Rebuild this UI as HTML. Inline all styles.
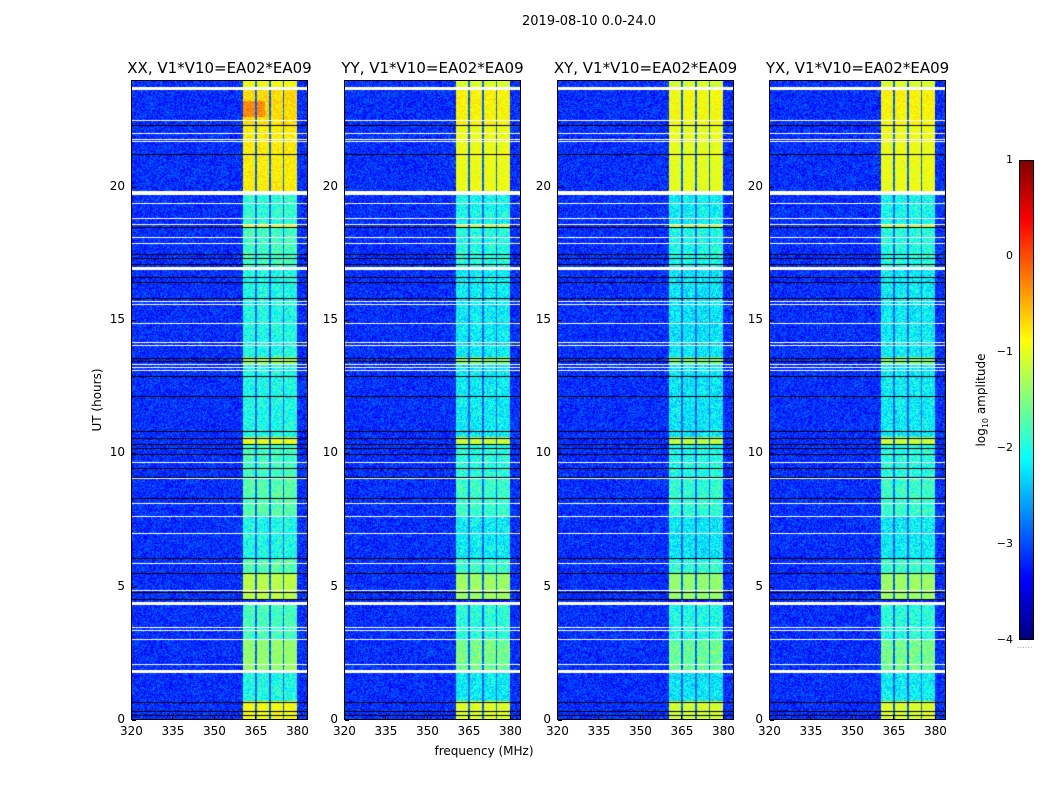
<!DOCTYPE html>
<html><head><meta charset="utf-8">
<style>
body{margin:0;background:#fff;width:1050px;height:800px;overflow:hidden;font-family:"DejaVu Sans","Liberation Sans",sans-serif;}
#root{position:relative;width:1050px;height:800px;}
.abs{position:absolute;}
canvas{position:absolute;}
.frame{position:absolute;border:1px solid #000;box-sizing:border-box;}
.tl{position:absolute;font-size:12px;color:#000;white-space:nowrap;}
.ttl{position:absolute;font-size:15px;color:#000;white-space:nowrap;transform:translateX(-50%);}
.tk{position:absolute;background:#000;}
</style></head>
<body><div id="root">
<div class="abs" style="left:589px;top:14px;font-size:13px;transform:translateX(-50%)">2019-08-10 0.0-24.0</div>
<div class="abs" style="left:97px;top:400px;font-size:12px;transform:translate(-50%,-50%) rotate(-90deg)">UT (hours)</div>
<div class="abs" style="left:484px;top:744px;font-size:12px;transform:translateX(-50%)">frequency (MHz)</div>
<div class="abs" style="left:1019px;top:160px;width:15px;height:480px;box-sizing:border-box;border:1px solid #000;background:linear-gradient(to top,#000080 0%,#0000ff 12.5%,#00ffff 37.5%,#ffff00 62.5%,#ff0000 87.5%,#800000 100%)"></div>
<div class="abs" style="left:982px;top:400px;font-size:12px;transform:translate(-50%,-50%) rotate(-90deg);white-space:nowrap">log<sub style="font-size:8px">10</sub> amplitude</div>
<div class="abs" style="left:1017px;top:641px;font-size:8px;color:#999;letter-spacing:0">......</div>
</div>
<script>
const panelTitles=["XX, V1*V10=EA02*EA09","YY, V1*V10=EA02*EA09","XY, V1*V10=EA02*EA09","YX, V1*V10=EA02*EA09"];
const panelOffsets=[0,-0.15,-0.2,-0.15];
const xTicks=[320,335,350,365,380];
const yTicks=[0,5,10,15,20];
const cbTicks=[1,0,-1,-2,-3,-4];
const subbandStart=[360.6,365.5,370.5,375.5];
const subbandEnd=[365.0,370.0,375.0,380.0];
const segStart=[0,0.7,1.8,3.0,4.5,5.5,6.0,7.6,9.1,10.35,10.6,13.3,13.6,16.9,17.0,18.5,18.6,19.75,21.2,22.3,23.7];
const segEnd=[0.7,1.8,3.0,4.35,5.5,6.0,7.6,9.1,10.35,10.6,13.3,13.6,16.9,17.0,18.5,18.6,19.75,21.2,22.3,23.7,24];
const segLevel=[-0.9,-2.0,-1.4,-1.8,-1.2,-1.7,-2.0,-1.7,-1.8,-1.0,-2.0,-1.3,-2.0,-0.9,-1.8,-1.0,-1.9,-0.8,-0.8,-0.7,-0.9];
const backgroundLevel=-3.15;
const whiteFlagHour=[23.66,22.47,21.99,21.78,21.68,19.75,19.37,18.81,18.59,18.09,17.87,16.94,15.68,15.58,14.87,14.16,14.04,13.34,13.21,13.09,9.66,9.06,8.13,7.62,7.0,5.88,4.85,4.35,3.46,3.34,3.03,2.09,1.81];
const whiteFlagDur=[0.13,0.05,0.05,0.05,0.05,0.15,0.05,0.05,0.05,0.05,0.05,0.13,0.05,0.05,0.05,0.05,0.05,0.05,0.05,0.05,0.05,0.05,0.05,0.05,0.05,0.05,0.05,0.13,0.05,0.05,0.05,0.05,0.13];
const blackFlagHour=[22.31,21.21,18.5,17.47,17.33,17.11,16.62,16.43,15.81,13.58,13.46,12.9,12.16,10.85,10.56,10.35,10.21,9.97,9.44,9.12,8.34,6.09,5.52,4.79,4.53,0.69,0.35,0.19];

const root=document.getElementById('root');
const PL=[131,344,557,769],PT=80,PW=177,PH=640;
const fMin=320,fMax=384,tMin=0,tMax=24;
function xs(f){return (f-fMin)/(fMax-fMin)*PW;}
function ys(h){return PH-(h-tMin)/(tMax-tMin)*PH;}
function jet(v){v=Math.max(0,Math.min(1,v));const c=x=>Math.round(255*Math.max(0,Math.min(1,1.5-Math.abs(x))));return [c(4*v-3),c(4*v-2),c(4*v-1)];}
function hash(a,b,c){let n=(a*374761393+b*668265263+c*2147483647)|0;n=(n^(n>>>13))*1274126177|0;n=n^(n>>>16);return ((n>>>0)%10000)/10000;}
function bandLevel(h){for(let i=0;i<segStart.length;i++){if(h>=segStart[i]&&h<segEnd[i])return segLevel[i];}return backgroundLevel;}

PL.forEach((left,p)=>{
  const cv=document.createElement('canvas');
  cv.width=PW;cv.height=PH;cv.style.left=left+'px';cv.style.top=PT+'px';
  
  
  root.appendChild(cv);
  const ctx=cv.getContext('2d');
  const img=ctx.createImageData(PW,PH);
  for(let py=0;py<PH;py++){
    const h=tMax-(py+0.5)/PH*(tMax-tMin);
    const bl=bandLevel(h)+panelOffsets[p];
    for(let px=0;px<PW;px++){
      const f=fMin+(px+0.5)/PW*(fMax-fMin);
      let lv=backgroundLevel,amp=0.7;
      let inBand=false;
      for(let s=0;s<subbandStart.length;s++){if(f>=subbandStart[s]&&f<subbandEnd[s]){inBand=true;break;}}
      if(inBand){lv=bl;amp=bl<-1.5?0.8:0.4;
        if(p===0&&h>22.6&&h<23.2&&f<368.5)lv=-0.3;
      } else if(f>=subbandStart[0]&&f<subbandEnd[3]){lv=-2.9;amp=0.5;}
      const v=(lv+(hash(px,py,p+1)-0.5)*amp+4)/5;
      const c=jet(v);const k=(py*PW+px)*4;
      img.data[k]=c[0];img.data[k+1]=c[1];img.data[k+2]=c[2];img.data[k+3]=255;
    }
  }
  ctx.putImageData(img,0,0);
  ctx.fillStyle='#fff';
  whiteFlagHour.forEach((h,i)=>{const y0=ys(h+whiteFlagDur[i]/2),y1=ys(h-whiteFlagDur[i]/2);ctx.fillRect(0,Math.round(y0),PW,Math.max(1,Math.round(y1-y0)));});
  ctx.fillStyle='#000';
  blackFlagHour.forEach(h=>{ctx.fillRect(0,Math.round(ys(h)),PW,1);});

  const fr=document.createElement('div');fr.className='frame';
  fr.style.cssText=`left:${left}px;top:${PT}px;width:${PW}px;height:${PH}px`;
  
  
  root.appendChild(fr);
  const t=document.createElement('div');t.className='ttl';
  t.style.left=(left+PW/2)+'px';t.style.top='59px';t.textContent=panelTitles[p];
  
  
  root.appendChild(t);
  xTicks.forEach(v=>{
    const x=left+xs(v);
    const l=document.createElement('div');l.className='tl';
    l.style.left=(x-11)+'px';l.style.top='724px';l.textContent=v;
    
    
    root.appendChild(l);
    const tk=document.createElement('div');tk.className='tk';
    tk.style.cssText=`left:${Math.round(x)}px;top:${PT+PH-5}px;width:1px;height:4px`;
    
    
    root.appendChild(tk);
  });
  yTicks.forEach(v=>{
    const y=PT+ys(v);
    const l=document.createElement('div');l.className='tl';
    l.style.left=(left-6)+'px';l.style.top=(y-8)+'px';l.style.transform='translateX(-100%)';l.textContent=v;
    
    
    root.appendChild(l);
    const tk=document.createElement('div');tk.className='tk';
    tk.style.cssText=`left:${left+1}px;top:${Math.round(y)}px;width:4px;height:1px`;
    
    
    root.appendChild(tk);
  });
});
cbTicks.forEach(v=>{
  const y=160+(1-v)/5*480;
  const l=document.createElement('div');l.className='tl';
  l.style.cssText=`left:1013px;top:${y-7}px;font-size:11px;transform:translateX(-100%)`;
  l.textContent=v<0?'\u2212'+(-v):v;
  
  
  root.appendChild(l);
});
</script>
</body></html>
